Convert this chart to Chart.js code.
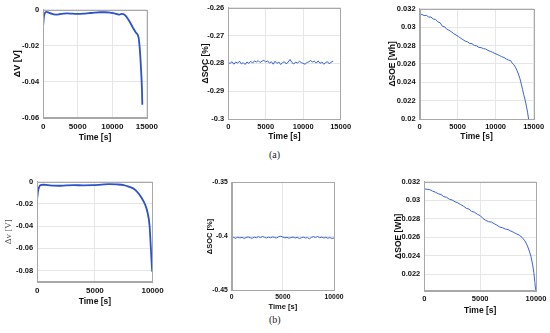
<!DOCTYPE html>
<html>
<head>
<meta charset="UTF-8">
<title>ΔV ΔSOC ΔSOE</title>
<script src="https://cdn.jsdelivr.net/npm/chart.js"></script>
<style>
    body { margin: 0; background: #ffffff; width: 550px; height: 333px; overflow: hidden; position: relative; }
    canvas { position: absolute; }
    .cap { position: absolute; font-family: "Liberation Serif", "DejaVu Serif", serif; font-size: 10px; color: #222; }
</style>
</head>
<body>
<canvas id="p1"></canvas>
<canvas id="p2"></canvas>
<canvas id="p3"></canvas>
<canvas id="p4"></canvas>
<canvas id="p5"></canvas>
<canvas id="p6"></canvas>
<div class="cap" style="left:269px; top:149px;">(a)</div>
<div class="cap" style="left:269px; top:314px;">(b)</div>
<script>
// ---- (a) ΔV ----
const timeDvA = [0, 100, 250, 470, 800, 1200, 1760, 2300, 2900, 3500, 4200, 5000, 5800, 6600, 7400, 8200, 9000, 9800, 10400, 10800, 11050, 11300, 11600, 12000, 12470, 12940, 13430, 13800, 14000, 14140, 14290, 14340];
const dvA = [-0.0085, -0.004, -0.0018, -0.0012, -0.0016, -0.0022, -0.0027, -0.0025, -0.0021, -0.002, -0.0022, -0.0023, -0.0022, -0.0019, -0.0016, -0.0014, -0.0014, -0.0017, -0.0021, -0.0026, -0.0027, -0.0023, -0.0024, -0.0037, -0.0064, -0.0097, -0.0128, -0.0155, -0.023, -0.032, -0.0446, -0.0528];

// ---- (a) ΔSOC ----
const timeSocA = [0, 250, 500, 750, 1000, 1250, 1500, 1750, 2000, 2250, 2500, 2750, 3000, 3250, 3500, 3750, 4000, 4250, 4500, 4750, 5000, 5250, 5500, 5750, 6000, 6250, 6500, 6750, 7000, 7250, 7500, 7750, 8000, 8250, 8500, 8750, 9000, 9250, 9500, 9750, 10000, 10250, 10500, 10750, 11000, 11250, 11500, 11750, 12000, 12250, 12500, 12750, 13000, 13250, 13500, 13750, 14000];
const socA = [-0.2797, -0.2800, -0.2794, -0.2803, -0.2795, -0.2799, -0.2792, -0.2802, -0.2797, -0.2804, -0.2795, -0.2800, -0.2792, -0.2799, -0.2791, -0.2795, -0.2790, -0.2797, -0.2792, -0.2789, -0.2795, -0.2791, -0.2799, -0.2794, -0.2803, -0.2792, -0.2800, -0.2795, -0.2804, -0.2797, -0.2794, -0.2802, -0.2795, -0.2786, -0.2797, -0.2802, -0.2795, -0.2799, -0.2792, -0.2797, -0.2800, -0.2803, -0.2797, -0.2794, -0.2790, -0.2795, -0.2792, -0.2799, -0.2791, -0.2800, -0.2795, -0.2803, -0.2797, -0.2794, -0.2802, -0.2795, -0.2792];

// ---- (a) ΔSOE ----
const timeSoeA = [0, 300, 600, 900, 1200, 1500, 1800, 2100, 2400, 2700, 3000, 3300, 3600, 3900, 4200, 4500, 4800, 5100, 5400, 5700, 6000, 6300, 6600, 6900, 7200, 7500, 7800, 8100, 8400, 8700, 9000, 9300, 9600, 9900, 10200, 10500, 10800, 11100, 11400, 11700, 12000, 12150, 12400, 12600, 12810, 13000, 13200, 13380, 13550, 13700, 13900, 14050, 14200, 14340];
const soeA = [0.03140, 0.03138, 0.03126, 0.03128, 0.03110, 0.03110, 0.03088, 0.03084, 0.03058, 0.03048, 0.03010, 0.03004, 0.02975, 0.02966, 0.02948, 0.02928, 0.02915, 0.02898, 0.02880, 0.02864, 0.02848, 0.02840, 0.02823, 0.02820, 0.02800, 0.02797, 0.02780, 0.02777, 0.02766, 0.02762, 0.02746, 0.02737, 0.02726, 0.02714, 0.02703, 0.02692, 0.02678, 0.02670, 0.02653, 0.02642, 0.02634, 0.02612, 0.02590, 0.02565, 0.02530, 0.02490, 0.02440, 0.02380, 0.02320, 0.02265, 0.02200, 0.02140, 0.02075, 0.02000];

// ---- (b) ΔV ----
const timeDvB = [0, 80, 180, 280, 500, 900, 1400, 1900, 2500, 3200, 4000, 4800, 5600, 6230, 6900, 7500, 7930, 8500, 9060, 9350, 9570, 9740, 9830, 9920, 9970];
const dvB = [-0.0147, -0.008, -0.0045, -0.003, -0.0027, -0.003, -0.0035, -0.0036, -0.0033, -0.0031, -0.0032, -0.0031, -0.0026, -0.0022, -0.0024, -0.003, -0.0044, -0.0073, -0.0147, -0.0205, -0.028, -0.0396, -0.0557, -0.073, -0.081];

// ---- (b) ΔSOC ----
const timeSocB = [0, 200, 400, 600, 800, 1000, 1200, 1400, 1600, 1800, 2000, 2200, 2400, 2600, 2800, 3000, 3200, 3400, 3600, 3800, 4000, 4200, 4400, 4600, 4800, 5000, 5200, 5400, 5600, 5800, 6000, 6200, 6400, 6600, 6800, 7000, 7200, 7400, 7600, 7800, 8000, 8200, 8400, 8600, 8800, 9000, 9200, 9400, 9600, 9800, 10000];
const socB = [-0.4000, -0.4010, -0.4016, -0.4006, -0.4014, -0.4008, -0.4018, -0.4010, -0.4004, -0.4012, -0.4016, -0.4006, -0.4012, -0.4002, -0.4010, -0.4000, -0.4008, -0.4014, -0.4006, -0.4012, -0.4004, -0.4010, -0.4014, -0.4002, -0.3998, -0.4006, -0.4012, -0.4008, -0.4016, -0.4010, -0.4006, -0.4014, -0.4008, -0.4018, -0.4012, -0.4006, -0.4014, -0.4010, -0.4021, -0.4008, -0.4002, -0.4010, -0.4000, -0.4012, -0.4006, -0.4014, -0.4008, -0.4016, -0.4010, -0.4018, -0.4014];

// ---- (b) ΔSOE ----
const timeSoeB = [0, 250, 500, 750, 1000, 1250, 1500, 1750, 2000, 2250, 2500, 2750, 3000, 3250, 3500, 3750, 4000, 4250, 4500, 4750, 5000, 5250, 5500, 5750, 6000, 6250, 6500, 6750, 7000, 7250, 7500, 7750, 8000, 8250, 8500, 8750, 9000, 9200, 9400, 9550, 9700, 9800, 9900, 9960];
const soeB = [0.03125, 0.03118, 0.03114, 0.03098, 0.03087, 0.03070, 0.03062, 0.03038, 0.03032, 0.03010, 0.03002, 0.02983, 0.02972, 0.02953, 0.02937, 0.02913, 0.02904, 0.02878, 0.02870, 0.02848, 0.02834, 0.02803, 0.02782, 0.02768, 0.02764, 0.02746, 0.02730, 0.02710, 0.02702, 0.02688, 0.02682, 0.02666, 0.02652, 0.02636, 0.02622, 0.02598, 0.02560, 0.02515, 0.02450, 0.02390, 0.02300, 0.02220, 0.02110, 0.02030];

// tick values
const xTicks15k = [0, 5000, 10000, 15000];
const xTicks10k = [0, 5000, 10000];
const yTicksDvA = [0, -0.02, -0.04, -0.06];
const yTicksSocA = [-0.26, -0.27, -0.28, -0.29, -0.3];
const yTicksSoeA = [0.02, 0.022, 0.024, 0.026, 0.028, 0.03, 0.032];
const yTicksDvB = [0, -0.02, -0.04, -0.06, -0.08];
const yTicksSocB = [-0.35, -0.4, -0.45];
const yTicksSoeB = [0.022, 0.024, 0.026, 0.028, 0.03, 0.032];

const SANS = '"Liberation Sans", Arial, sans-serif';

// draws the MATLAB style box round the plot area
const framePlugin = {
    id: 'frame',
    afterDraw(chart) {
        const a = chart.chartArea, c = chart.ctx;
        c.save();
        c.strokeStyle = '#a8a8a8';
        c.lineWidth = 1;
        c.strokeRect(Math.round(a.left) + 0.5, Math.round(a.top) + 0.5, Math.round(a.right - a.left), Math.round(a.bottom - a.top));
        c.restore();
    }
};

function fmt(v) { return String(Number(v.toFixed(6))); }

function makePanel(p) {
    const padTop = 6, padRight = 14;
    const cl = p.yTitleX - p.yTitleSize / 2;
    const ct = p.box.t - padTop;
    const yw = p.box.l - cl;
    const xh = p.xTitleY + p.xTitleSize / 2 - p.box.b;
    const w = Math.ceil(p.box.r - cl + padRight);
    const h = Math.ceil(padTop + (p.box.b - p.box.t) + xh);
    const cv = document.getElementById(p.id);
    cv.width = w; cv.height = h;
    cv.style.left = cl + 'px'; cv.style.top = ct + 'px';
    cv.style.width = w + 'px'; cv.style.height = h + 'px';

    new Chart(cv, {
        type: 'line',
        data: {
            datasets: [{
                data: p.t.map((t, i) => ({ x: t, y: p.v[i] })),
                borderColor: p.color,
                borderWidth: p.lw,
                pointRadius: 0,
                tension: 0,
                cubicInterpolationMode: p.smooth ? 'monotone' : 'default',
                fill: false
            }]
        },
        options: {
            responsive: false,
            animation: false,
            devicePixelRatio: 1,
            layout: { padding: { top: padTop, right: padRight, left: 0, bottom: 0 } },
            plugins: { legend: { display: false }, tooltip: { enabled: false } },
            scales: {
                x: {
                    type: 'linear',
                    min: p.xMin, max: p.xMax,
                    afterBuildTicks: s => { s.ticks = p.xTicks.map(v => ({ value: v })); },
                    afterFit: s => { s.height = xh; },
                    grid: { color: '#e6e6e6', drawTicks: false },
                    border: { color: '#a8a8a8' },
                    ticks: {
                        autoSkip: false, maxRotation: 0, padding: p.xTickY - p.xTickSize / 2 - p.box.b,
                        color: '#111', font: { family: SANS, size: p.xTickSize, weight: 'bold', lineHeight: 1 },
                        callback: v => fmt(v)
                    },
                    title: {
                        display: true, text: 'Time [s]', color: '#111', padding: 0,
                        font: { family: SANS, size: p.xTitleSize, weight: 'bold', lineHeight: 1 }
                    }
                },
                y: {
                    min: p.yMin, max: p.yMax,
                    afterBuildTicks: s => { s.ticks = p.yTicks.map(v => ({ value: v })); },
                    afterFit: s => { s.width = yw; },
                    grid: { color: '#e6e6e6', drawTicks: false },
                    border: { color: '#a8a8a8' },
                    ticks: {
                        padding: 4, color: '#111',
                        font: { family: SANS, size: p.yTickSize, weight: 'bold', lineHeight: 1 },
                        callback: v => fmt(v)
                    },
                    title: {
                        display: true, text: p.yTitle, color: p.yTitleColor || '#111', padding: 0,
                        font: { family: p.yTitleFamily || SANS, size: p.yTitleSize, weight: p.yTitleWeight || 'bold', lineHeight: 1 }
                    }
                }
            }
        },
        plugins: [framePlugin]
    });
}

makePanel({ id: 'p1', box: { l: 42.7, t: 8.3, r: 147.7, b: 118 }, yTitleX: 17, yTitleSize: 9, xTickY: 127, xTitleY: 138, xTitleSize: 8.5, xTickSize: 8, yTickSize: 7.5,
    t: timeDvA, v: dvA, xMin: 0, xMax: 15000, xTicks: xTicks15k, yMin: -0.06, yMax: 0, yTicks: yTicksDvA, yTitle: 'ΔV [V]', color: '#2b52c8', lw: 1.8, smooth: true });
makePanel({ id: 'p2', box: { l: 228, t: 6, r: 340.5, b: 119 }, yTitleX: 205, yTitleSize: 8.5, xTickY: 126.7, xTitleY: 136.7, xTitleSize: 8.5, xTickSize: 7.5, yTickSize: 7.5,
    t: timeSocA, v: socA, xMin: 0, xMax: 15000, xTicks: xTicks15k, yMin: -0.3, yMax: -0.26, yTicks: yTicksSocA, yTitle: 'ΔSOC [%]', color: '#3a62d6', lw: 1, smooth: false });
makePanel({ id: 'p3', box: { l: 419.3, t: 7.3, r: 533.3, b: 119 }, yTitleX: 392, yTitleSize: 8.5, xTickY: 126.7, xTitleY: 136.7, xTitleSize: 8.5, xTickSize: 7.5, yTickSize: 7.5,
    t: timeSoeA, v: soeA, xMin: 0, xMax: 15000, xTicks: xTicks15k, yMin: 0.02, yMax: 0.032, yTicks: yTicksSoeA, yTitle: 'ΔSOE [Wh]', color: '#3a62d6', lw: 1, smooth: false });
makePanel({ id: 'p4', box: { l: 36.7, t: 180, r: 154.3, b: 281.7 }, yTitleX: 8, yTitleSize: 9, xTickY: 291, xTitleY: 301.7, xTitleSize: 8.5, xTickSize: 8, yTickSize: 7.5,
    t: timeDvB, v: dvB, xMin: 0, xMax: 10000, xTicks: xTicks10k, yMin: -0.09, yMax: 0, yTicks: yTicksDvB, yTitle: 'Δv [V]', yTitleFamily: '"Liberation Serif", serif', yTitleWeight: 'normal', yTitleColor: '#555',
    color: '#2b52c8', lw: 1.8, smooth: true });
makePanel({ id: 'p5', box: { l: 232, t: 181, r: 334, b: 290 }, yTitleX: 210, yTitleSize: 7.5, xTickY: 296.7, xTitleY: 306.7, xTitleSize: 7.5, xTickSize: 6.8, yTickSize: 6.8,
    t: timeSocB, v: socB, xMin: 0, xMax: 10000, xTicks: xTicks10k, yMin: -0.45, yMax: -0.35, yTicks: yTicksSocB, yTitle: 'ΔSOC [%]', color: '#3a62d6', lw: 1, smooth: false });
makePanel({ id: 'p6', box: { l: 424, t: 180, r: 536.7, b: 290 }, yTitleX: 398, yTitleSize: 8.5, xTickY: 298.3, xTitleY: 310, xTitleSize: 8.5, xTickSize: 7.5, yTickSize: 7.5,
    t: timeSoeB, v: soeB, xMin: 0, xMax: 10000, xTicks: xTicks10k, yMin: 0.0202, yMax: 0.032, yTicks: yTicksSoeB, yTitle: 'ΔSOE [Wh]', color: '#3a62d6', lw: 1, smooth: false });
</script>
</body>
</html>
